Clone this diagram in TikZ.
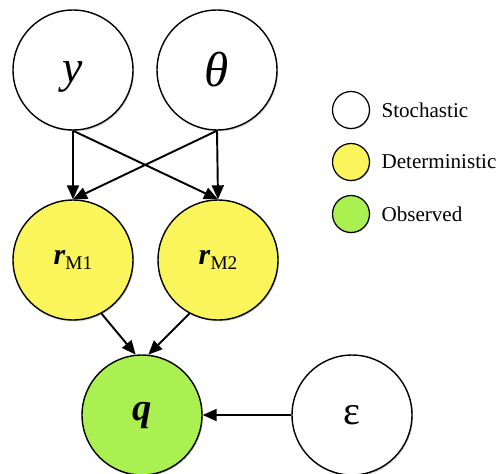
\documentclass[tikz,border=0pt]{standalone}
\usepackage{fontspec}
\setmainfont{Liberation Serif}
\usetikzlibrary{arrows.meta,shadows}

\definecolor{detyellow}{RGB}{250,245,90}
\definecolor{obsgreen}{RGB}{170,240,80}

\tikzset{
    var/.style={circle, draw=black, line width=0.8pt, minimum size=2.4cm, inner sep=0pt,
        drop shadow={shadow xshift=0.6pt, shadow yshift=-0.8pt, opacity=0.35}},
    stoch/.style={var, fill=white},
    determ/.style={var, fill=detyellow},
    obs/.style={var, fill=obsgreen},
    key/.style={circle, draw=black, line width=0.7pt, minimum size=0.74cm, inner sep=0pt,
        drop shadow={shadow xshift=0.5pt, shadow yshift=-0.6pt, opacity=0.35}},
    keytext/.style={anchor=west, font=\fontsize{12}{14}\selectfont},
    link/.style={-{Triangle[length=2.8mm,width=2.4mm]}, line width=1.1pt}
}

\begin{document}
\begin{tikzpicture}[x=0.02cm,y=-0.02cm]
        \useasboundingbox (0,0) rectangle (499,473);
        % variables
        \node[stoch, text height=14pt, text depth=0pt] (y) at (73,70) {\fontsize{26}{30}\selectfont\itshape y};
        \node[stoch] (theta) at (217,70) {\fontsize{28}{30}\selectfont\itshape θ};
        \node[determ] (rm1) at (73,260) {\fontsize{17}{20}\selectfont\textbf{\textit{r}}\raisebox{-0.35ex}{\fontsize{11}{13}\selectfont M1}};
        \node[determ] (rm2) at (218,260) {\fontsize{17}{20}\selectfont\textbf{\textit{r}}\raisebox{-0.35ex}{\fontsize{11}{13}\selectfont M2}};
        \node[obs] (q) at (142,415) {\fontsize{22}{26}\selectfont\textbf{\textit{q}}};
        \node[stoch] (eps) at (352,415) {\fontsize{23}{26}\selectfont ε};
        % edges
        \draw[link] (y.south) -- (rm1.north);
        \draw[link] (y.south) -- (rm2.north);
        \draw[link] (theta.south) -- (rm1.north);
        \draw[link] (theta.south) -- (rm2.north);
        \draw[link] (rm1.-62) -- (q.96);
        \draw[link] (rm2.-118) -- (q.84);
        \draw[link] (eps.west) -- (q.east);
        % legend
        \node[key, fill=white] (kstoch) at (351,110) {};
        \node[keytext] at ([xshift=3pt]kstoch.east) {Stochastic};
        \node[key, fill=detyellow] (kdeterm) at (351,162) {};
        \node[keytext] at ([xshift=3pt]kdeterm.east) {Deterministic};
        \node[key, fill=obsgreen] (kobs) at (351,214) {};
        \node[keytext] at ([xshift=3pt]kobs.east) {Observed};
    \end{tikzpicture}
\end{document}
